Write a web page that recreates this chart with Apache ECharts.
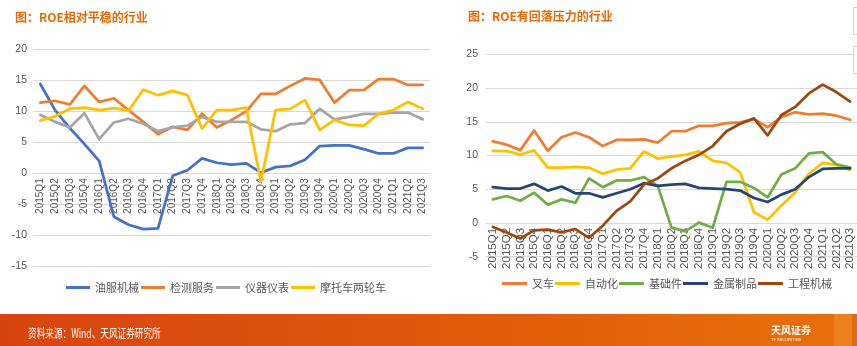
<!DOCTYPE html>
<html>
<head>
<meta charset="utf-8">
<script src="https://cdn.jsdelivr.net/npm/echarts@6/dist/echarts.min.js"></script>
<style>
  html, body { margin: 0; padding: 0; background: #ffffff; }
  #chart { width: 857px; height: 346px; }
</style>
</head>
<body>
<div id="chart"></div>
<script>
// Quarterly categories shared by both panels
const quarters = [
  '2015Q1','2015Q2','2015Q3','2015Q4','2016Q1','2016Q2','2016Q3','2016Q4',
  '2017Q1','2017Q2','2017Q3','2017Q4','2018Q1','2018Q2','2018Q3','2018Q4',
  '2019Q1','2019Q2','2019Q3','2019Q4','2020Q1','2020Q2','2020Q3','2020Q4',
  '2021Q1','2021Q2','2021Q3'
];

// Left panel: industries with relatively stable ROE (%)
const oilService  = [14.4, 10.2, 7.3, 4.7, 2.0, -7.0, -8.3, -9.0, -8.9, -0.4, 0.5, 2.4, 1.7, 1.4, 1.6, 0.1, 1.0, 1.2, 2.2, 4.4, 4.5, 4.5, 3.9, 3.2, 3.2, 4.1, 4.1];
const testing     = [11.4, 11.7, 11.1, 14.1, 11.5, 12.1, 10.2, 8.3, 6.3, 7.5, 7.0, 9.6, 7.4, 8.6, 10.0, 12.8, 12.8, 14.1, 15.3, 15.05, 11.4, 13.4, 13.4, 15.2, 15.2, 14.25, 14.25];
const instruments = [9.4, 8.3, 7.4, 9.7, 5.5, 8.2, 8.8, 8.0, 6.8, 7.4, 7.7, 9.1, 8.3, 8.3, 8.3, 7.1, 6.8, 7.9, 8.1, 10.4, 8.7, 9.1, 9.6, 9.6, 9.8, 9.8, 8.7];
const motorcycle  = [8.5, 9.2, 10.4, 10.6, 10.2, 10.5, 10.1, 13.5, 12.6, 13.3, 12.6, 7.2, 10.2, 10.2, 10.6, -1.3, 10.2, 10.4, 11.8, 7.0, 8.6, 7.8, 7.7, 9.6, 10.2, 11.5, 10.4];

// Right panel: industries with ROE under pullback pressure (%)
const forklift     = [12.1, 11.6, 10.8, 13.7, 10.7, 12.7, 13.4, 12.7, 11.4, 12.3, 12.3, 12.4, 11.9, 13.6, 13.6, 14.4, 14.4, 14.8, 14.9, 15.4, 14.2, 15.7, 16.4, 16.1, 16.2, 15.9, 15.3];
const automation   = [10.7, 10.65, 10.15, 10.75, 8.2, 8.2, 8.3, 8.2, 7.3, 7.9, 8.1, 10.6, 9.55, 9.85, 10.1, 10.6, 9.2, 8.9, 7.5, 1.6, 0.5, 2.6, 4.5, 7.3, 8.9, 8.6, 7.9];
const basicParts   = [3.5, 4.0, 3.3, 4.5, 2.7, 3.5, 3.0, 6.6, 5.3, 6.3, 6.3, 6.8, 5.5, -0.7, -1.25, 0.05, -0.7, 6.1, 6.1, 5.2, 3.8, 7.2, 8.1, 10.3, 10.5, 8.7, 8.2];
const metalProds   = [5.3, 5.1, 5.1, 5.8, 4.8, 5.4, 4.4, 4.4, 3.8, 4.4, 5.0, 5.9, 5.5, 5.7, 5.8, 5.2, 5.1, 5.0, 4.8, 3.7, 3.1, 4.2, 5.0, 6.8, 8.0, 8.1, 8.1];
const construction = [-0.6, -1.4, -2.3, -1.1, -1.0, -1.4, -0.9, -2.2, -0.4, 1.8, 3.2, 5.7, 6.6, 8.1, 9.2, 10.1, 11.4, 13.6, 14.7, 15.5, 13.0, 16.0, 17.2, 19.2, 20.5, 19.4, 18.0];

const leftNames  = ['油服机械', '检测服务', '仪器仪表', '摩托车两轮车'];
const rightNames = ['叉车', '自动化', '基础件', '金属制品', '工程机械'];

const FONT = '"Liberation Sans", "Noto Sans CJK SC", sans-serif';
const CJK = '"Noto Sans CJK SC", sans-serif';
const GRID_COLOR = '#d9d9d9';
const LABEL_COLOR = '#595959';
const TITLE_COLOR = '#E36C0A';

// Plot boxes; the category axis sits on the value axis' zero line
const leftBox  = { left: 33,  top: 49.3, width: 397, height: 217,   min: -15, max: 20 };
const rightBox = { left: 486, top: 54.3, width: 372, height: 202.4, min: -5,  max: 25 };

function zeroOffset(box) {
  // distance from the plot bottom up to the zero value line
  return -box.height * (0 - box.min) / (box.max - box.min);
}

function line(name, data, color, idx) {
  return {
    name, type: 'line', data,
    xAxisIndex: idx, yAxisIndex: idx,
    symbol: 'none', smooth: false,
    lineStyle: { color, width: 2.75, join: 'round', cap: 'round' },
    itemStyle: { color },
    emphasis: { disabled: true }
  };
}

function xAxis(gridIndex, fontSize, box) {
  return {
    type: 'category', gridIndex, data: quarters, boundaryGap: true,
    position: 'bottom', offset: zeroOffset(box),
    axisLine: { onZero: false, lineStyle: { color: GRID_COLOR, width: 1 } },
    axisTick: { show: false },
    axisLabel: { interval: 0, rotate: 90, color: LABEL_COLOR, fontSize, fontFamily: FONT, margin: 5 },
    splitLine: { show: false }
  };
}

function yAxis(gridIndex, box, margin) {
  return {
    type: 'value', gridIndex, min: box.min, max: box.max, interval: 5,
    axisLine: { show: false }, axisTick: { show: false },
    axisLabel: { color: LABEL_COLOR, fontSize: 10.5, fontFamily: FONT, margin },
    splitLine: { lineStyle: { color: GRID_COLOR, width: 1 } }
  };
}

const chart = echarts.init(document.getElementById('chart'), null, { renderer: 'canvas' });

chart.setOption({
  animation: false,
  backgroundColor: '#ffffff',
  title: [
    { text: '图：ROE相对平稳的行业', left: 15, top: 11, padding: 0,
      textStyle: { color: TITLE_COLOR, fontSize: 12, fontWeight: 'bold', fontFamily: CJK } },
    { text: '图：ROE有回落压力的行业', left: 468, top: 10, padding: 0,
      textStyle: { color: TITLE_COLOR, fontSize: 12, fontWeight: 'bold', fontFamily: CJK } }
  ],
  grid: [
    { left: leftBox.left, top: leftBox.top, width: leftBox.width, height: leftBox.height, containLabel: false },
    { left: rightBox.left, top: rightBox.top, width: rightBox.width, height: rightBox.height, containLabel: false }
  ],
  xAxis: [xAxis(0, 10, leftBox), xAxis(1, 11.5, rightBox)],
  yAxis: [yAxis(0, leftBox, 6), yAxis(1, rightBox, 8)],
  legend: [
    { data: leftNames, left: 66, top: 282, padding: 0, itemGap: 2, itemWidth: 24, itemHeight: 3, icon: 'rect',
      textStyle: { color: LABEL_COLOR, fontSize: 11, fontFamily: CJK } },
    { data: rightNames, left: 502, top: 278, padding: 0, itemGap: 1, itemWidth: 25, itemHeight: 3, icon: 'rect',
      textStyle: { color: LABEL_COLOR, fontSize: 11, fontFamily: CJK } }
  ],
  series: [
    line('油服机械', oilService, '#4472C4', 0),
    line('检测服务', testing, '#ED7D31', 0),
    line('仪器仪表', instruments, '#A5A5A5', 0),
    line('摩托车两轮车', motorcycle, '#FFC000', 0),
    line('叉车', forklift, '#ED7D31', 1),
    line('自动化', automation, '#FFC000', 1),
    line('基础件', basicParts, '#70AD47', 1),
    line('金属制品', metalProds, '#264478', 1),
    line('工程机械', construction, '#9E480E', 1)
  ],
  graphic: [
    // partially visible panels at the right edge
    { type: 'rect', shape: { x: 853.5, y: 7.5, width: 10, height: 27 },
      style: { fill: '#ffffff', stroke: '#d4d4d4', lineWidth: 1 }, z: 50 },
    { type: 'rect', shape: { x: 853.5, y: 46.5, width: 10, height: 27 },
      style: { fill: '#ffffff', stroke: '#d4d4d4', lineWidth: 1 }, z: 50 },
    // footer band
    { type: 'rect', shape: { x: 0, y: 314, width: 857, height: 32 }, z: 50,
      style: { fill: new echarts.graphic.LinearGradient(0, 0, 1, 0, [
        { offset: 0, color: '#D8440F' },
        { offset: 0.5, color: '#E0580C' },
        { offset: 1, color: '#E8700A' }
      ]) } },
    { type: 'rect', shape: { x: 834, y: 314, width: 18, height: 32 }, z: 51,
      style: { fill: '#EC8420', opacity: 0.8 } },
    { type: 'rect', shape: { x: 852, y: 314, width: 5, height: 32 }, z: 51,
      style: { fill: '#E06A10' } },
    { type: 'text', x: 28, y: 333, scaleX: 0.69, z: 52,
      style: { text: '资料来源：Wind、天风证券研究所', fill: '#ffffff', fontSize: 12.5,
        fontFamily: CJK, verticalAlign: 'middle', align: 'left' } },
    // logo mark
    { type: 'group', x: 756, y: 333, z: 52, children: [
      { type: 'ellipse', shape: { cx: -4, cy: -7, rx: 3.2, ry: 2 }, rotation: 0.6, style: { fill: '#ffffff' } },
      { type: 'ellipse', shape: { cx: 4, cy: -8, rx: 3, ry: 2 }, rotation: -0.5, style: { fill: '#ffffff' } },
      { type: 'ellipse', shape: { cx: -5, cy: 0, rx: 3.4, ry: 2 }, style: { fill: '#ffffff' } },
      { type: 'ellipse', shape: { cx: 5, cy: -1, rx: 3.4, ry: 2 }, style: { fill: '#ffffff' } },
      { type: 'ellipse', shape: { cx: 0, cy: 6, rx: 2.2, ry: 4 }, style: { fill: '#ffffff' } },
      { type: 'circle', shape: { cx: 0, cy: -2, r: 1.6 }, style: { fill: '#ffffff' } }
    ] },
    { type: 'text', x: 771, y: 330, z: 52,
      style: { text: '天风证券', fill: '#ffffff', fontSize: 10, fontWeight: 'bold',
        fontFamily: CJK, verticalAlign: 'middle' } },
    { type: 'text', x: 771, y: 340, z: 52,
      style: { text: 'TF SECURITIES', fill: '#ffffff', fontSize: 4, fontFamily: FONT, verticalAlign: 'middle' } }
  ]
});
</script>
</body>
</html>
